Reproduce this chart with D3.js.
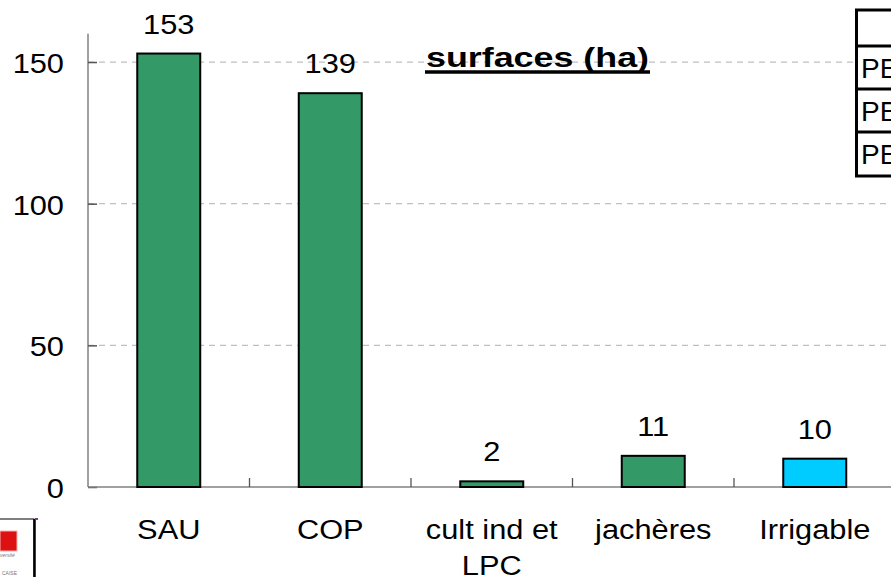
<!DOCTYPE html>
<html>
<head>
<meta charset="utf-8">
<script src="https://cdn.jsdelivr.net/npm/d3@7"></script>
<style>
  html, body { margin: 0; padding: 0; background: #fff; overflow: hidden; }
  svg { display: block; font-family: "Liberation Sans", Arial, sans-serif; }
</style>
</head>
<body>
<svg id="chart" width="891" height="577"></svg>
<script>
// ---- data ----
const categories = ["SAU", "COP", "cult ind et\nLPC", "jachères", "Irrigable"];
const values = [153, 139, 2, 11, 10];
const barColors = ["#339966", "#339966", "#339966", "#339966", "#00CCFF"];
const yTicks = [0, 50, 100, 150];
const tableRows = ["", "PE", "PE", "PE"];
const title = "surfaces (ha)";

(function () {
// ---- layout ----
const W = 891, H = 577;
const pLeft = 88, pBottom = 487, pTop = 33.7, pRight = 895.5;
const svg = d3.select("#chart");
const sx = 1.1; // horizontal stretch of the original text

const x = d3.scaleBand().domain(categories).range([pLeft, pRight]).padding(0);
const y = d3.scaleLinear().domain([0, 160]).range([pBottom, pTop]);
const barW = x.bandwidth() * 0.39;

// gridlines
svg.append("g").selectAll("line").data(yTicks.filter(d => d > 0)).join("line")
  .attr("x1", pLeft).attr("x2", W)
  .attr("y1", d => y(d)).attr("y2", d => y(d))
  .attr("stroke", "#c0c0c0").attr("stroke-width", 1.2)
  .attr("stroke-dasharray", "6,5");

// y axis
const yAxis = d3.axisRight(y).tickValues(yTicks).tickSize(9).tickFormat("");
const gy = svg.append("g").attr("transform", `translate(${pLeft},0)`).call(yAxis);
gy.select(".domain").attr("stroke", "#808080").attr("stroke-width", 1.5)
  .attr("d", `M0,${pTop}V${pBottom}`);
gy.selectAll(".tick line").attr("stroke", "#555").attr("stroke-width", 1.5);

// y tick labels
gy.selectAll(".tick").append("text")
  .attr("transform", `translate(-24,10.5) scale(${sx},1)`)
  .attr("text-anchor", "end").attr("fill", "#000")
  .style("font-size", "28px").text(d => d);

// x axis baseline
const xAxis = d3.axisTop(x).tickSize(0).tickFormat("");
const gx = svg.append("g").attr("transform", `translate(0,${pBottom})`).call(xAxis);
gx.select(".domain").attr("stroke", "#808080").attr("stroke-width", 1.5)
  .attr("d", `M${pLeft},0H${W}`);
// category separator ticks
svg.append("g").selectAll("line").data(categories.slice(1)).join("line")
  .attr("x1", d => x(d)).attr("x2", d => x(d))
  .attr("y1", pBottom - 9).attr("y2", pBottom)
  .attr("stroke", "#555").attr("stroke-width", 1.3);

// bars
svg.append("g").selectAll("rect").data(values).join("rect")
  .attr("x", (d, i) => x(categories[i]) + (x.bandwidth() - barW) / 2)
  .attr("y", d => y(d))
  .attr("width", barW)
  .attr("height", d => y(0) - y(d))
  .attr("fill", (d, i) => barColors[i])
  .attr("stroke", "#000").attr("stroke-width", 2);

// value labels
svg.append("g").selectAll("text").data(values).join("text")
  .attr("transform", (d, i) => `translate(${x(categories[i]) + x.bandwidth() / 2},${y(d) - 20}) scale(${sx},1)`)
  .attr("text-anchor", "middle").style("font-size", "28px").attr("fill", "#000")
  .text(d => d);

// category labels
const cl = svg.append("g").selectAll("text").data(categories).join("text")
  .attr("transform", d => `translate(${x(d) + x.bandwidth() / 2},539) scale(${sx},1)`)
  .attr("text-anchor", "middle").style("font-size", "28px").attr("fill", "#000");
cl.each(function (d) {
  d.split("\n").forEach((line, k) => {
    d3.select(this).append("tspan").attr("x", 0).attr("y", k * 36).text(line);
  });
});

// title
svg.append("text")
  .attr("x", 426).attr("y", 67)
  .attr("textLength", 223).attr("lengthAdjust", "spacingAndGlyphs")
  .style("font-size", "27px").style("font-weight", "bold").attr("fill", "#000")
  .text(title);
svg.append("line").attr("x1", 425).attr("x2", 650).attr("y1", 72).attr("y2", 72)
  .attr("stroke", "#000").attr("stroke-width", 3.5);

// table (top right, cut off)
const rowLines = [10, 46, 89, 132, 176];
const tbl = svg.append("g");
tbl.append("rect").attr("x", 856.5).attr("y", rowLines[0])
  .attr("width", 60).attr("height", rowLines[4] - rowLines[0])
  .attr("fill", "#fff").attr("stroke", "#000").attr("stroke-width", 3);
tbl.selectAll("line").data(rowLines.slice(1, 4)).join("line")
  .attr("x1", 856.5).attr("x2", W).attr("y1", d => d).attr("y2", d => d)
  .attr("stroke", "#000").attr("stroke-width", 3);
tbl.selectAll("text").data(tableRows).join("text")
  .attr("x", 861).attr("y", (d, i) => (rowLines[i] + rowLines[i + 1]) / 2 + 10)
  .style("font-size", "28px").attr("fill", "#000").text(d => d);

// logo (bottom-left, cut off)
const logo = svg.append("g");
logo.append("rect").attr("x", -2).attr("y", 519).attr("width", 36).attr("height", 70)
  .attr("fill", "#fff").attr("stroke", "#000").attr("stroke-width", 1);
logo.append("line").attr("x1", 34.5).attr("x2", 34.5).attr("y1", 519).attr("y2", H)
  .attr("stroke", "#000").attr("stroke-width", 2.5);
logo.append("rect").attr("x", 0).attr("y", 531).attr("width", 17).attr("height", 20)
  .attr("fill", "#dd1111").attr("stroke", "#f4b0b0").attr("stroke-width", 1);
logo.append("text").attr("x", 0).attr("y", 557).style("font-size", "5px")
  .style("font-style", "italic").attr("fill", "#777").text("versité");
logo.append("text").attr("x", 2).attr("y", 575).style("font-size", "5px")
  .attr("fill", "#777").text("CAISE");
logo.append("rect").attr("x", 35).attr("y", 518).attr("width", 3).attr("height", 2)
  .attr("fill", "#7a3a8a");
})();
</script>
</body>
</html>
